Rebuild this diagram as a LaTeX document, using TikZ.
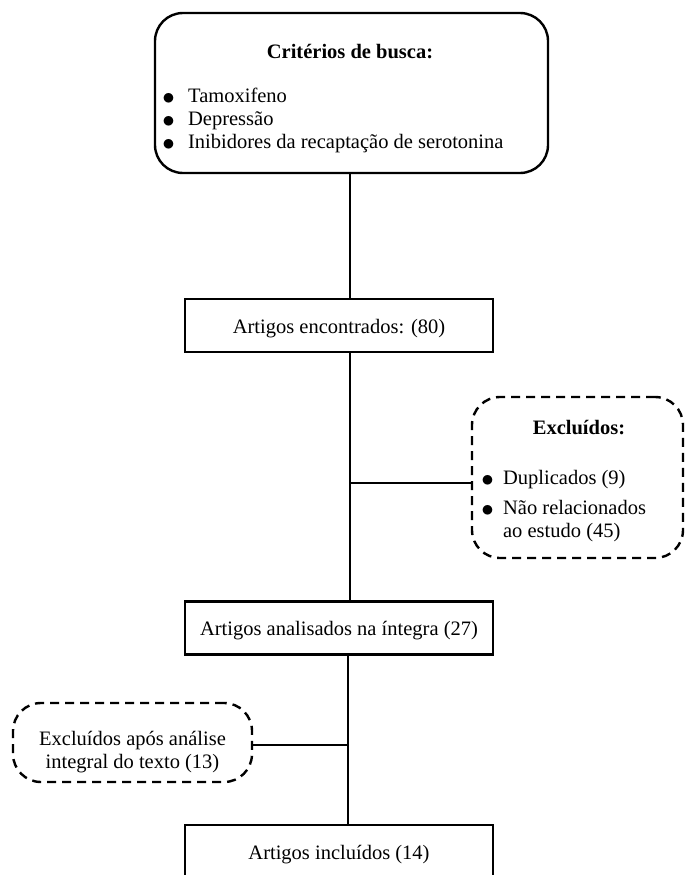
\documentclass[tikz,border=0pt]{standalone}
\usepackage{fontspec}
\setmainfont{Liberation Serif}
\usepackage{tikz}
\usepackage{xcolor}

\newcommand{\marca}{{\fontsize{27}{23}\selectfont\raisebox{-1.5pt}{$\bullet$}}}

\begin{document}
\begin{tikzpicture}[x=1pt,y=-1pt,line width=2.4pt,
    every node/.style={font=\fontsize{20.5}{23}\selectfont,inner sep=0pt},
    titulo/.style={font=\fontsize{20.5}{23}\selectfont\bfseries},
    box/.style={draw,minimum width=308pt,minimum height=53pt,text height=16pt,text depth=1pt},
    roundbox/.style={draw,rounded corners=28pt},
    dashbox/.style={draw,rounded corners=28pt,dash pattern=on 9pt off 6pt}]
    \useasboundingbox (0,0) rectangle (687,875);
    % boxes
    \node [roundbox,minimum width=393pt,minimum height=160pt] (busca) at (351.5,93) {};
    \node [box] (encontrados) at (339,325.5) {Artigos encontrados: (80)};
    \node [dashbox,minimum width=211pt,minimum height=161pt] (excluidos) at (577.5,477.5) {};
    \node [box] (analisados) at (339,628) {Artigos analisados na íntegra (27)};
    \node [dashbox,minimum width=239pt,minimum height=79pt] (exclanalise) at (132.5,742.5) {};
    \node [box,minimum height=54pt] (incluidos) at (339,852) {Artigos incluídos (14)};
    % texts
    \node [titulo] (buscatit) at (350,52) {Critérios de busca:};
    \node [anchor=west] (buscalista) at (161.25,121) {%
        \begin{tabular}{@{}l@{\hspace{13.25pt}}l@{}}
            \marca & Tamoxifeno\\
            \marca & Depressão\\
            \marca & Inibidores da recaptação de serotonina
        \end{tabular}};
    \node [titulo] (excltit) at (579,428) {Excluídos:};
    \node [anchor=west] (excllista) at (480.25,506.5) {%
        \begin{tabular}{@{}l@{\hspace{9.25pt}}l@{}}
            \marca & Duplicados (9)\\[7pt]
            \marca & Não relacionados\\
                   & ao estudo (45)
        \end{tabular}};
    \node [align=center] (exclanalisetxt) at (132.5,752.5) {Excluídos após análise\\integral do texto (13)};
    % lines
    \coordinate (j1) at (350,483);
    \coordinate (j2) at (348,745);
    \draw (j1 |- busca.south) -- (j1 |- encontrados.north);
    \draw (j1 |- encontrados.south) -- (j1 |- analisados.north);
    \draw (j1) -- (j1 -| excluidos.west);
    \draw (j2 |- analisados.south) -- (j2 |- incluidos.north);
    \draw (j2) -- (j2 -| exclanalise.east);
\end{tikzpicture}
\end{document}
